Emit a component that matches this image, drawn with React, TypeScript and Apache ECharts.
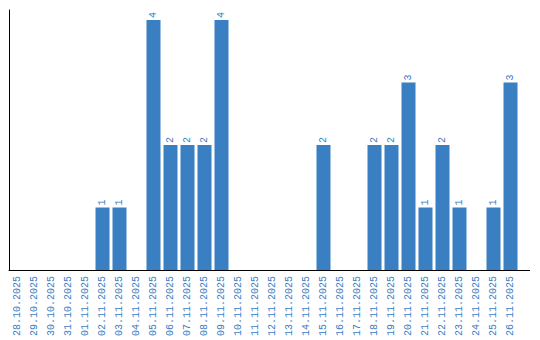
import React, { useEffect, useRef } from "react";
import * as echarts from "echarts";

const categories = [
  "28.10.2025", "29.10.2025", "30.10.2025", "31.10.2025", "01.11.2025",
  "02.11.2025", "03.11.2025", "04.11.2025", "05.11.2025", "06.11.2025",
  "07.11.2025", "08.11.2025", "09.11.2025", "10.11.2025", "11.11.2025",
  "12.11.2025", "13.11.2025", "14.11.2025", "15.11.2025", "16.11.2025",
  "17.11.2025", "18.11.2025", "19.11.2025", "20.11.2025", "21.11.2025",
  "22.11.2025", "23.11.2025", "24.11.2025", "25.11.2025", "26.11.2025",
];
const values = [
  0, 0, 0, 0, 0,
  1, 1, 0, 4, 2,
  2, 2, 4, 0, 0,
  0, 0, 0, 2, 0,
  0, 2, 2, 3, 1,
  2, 1, 0, 1, 3,
];

const BAR = "#3b7fc3";
const TEXT = "#3a7dc2";
const FONT = "'Liberation Mono', 'DejaVu Sans Mono', monospace";

export default function App() {
  const ref = useRef<HTMLDivElement>(null);
  useEffect(() => {
    if (!ref.current) return;
    const chart = echarts.init(ref.current, undefined, { renderer: "svg" });
    chart.setOption({
      animation: false,
      grid: { left: 9, top: 10, width: 510, bottom: 70, containLabel: false },
      xAxis: {
        type: "category",
        data: categories,
        axisLine: { show: true, lineStyle: { color: "#000", width: 1 } },
        axisTick: { show: false },
        axisLabel: {
          rotate: 90,
          interval: 0,
          margin: 6,
          color: TEXT,
          fontSize: 10,
          fontFamily: FONT,
        },
      },
      yAxis: {
        type: "value",
        min: 0,
        max: 4.16,
        axisLine: { show: true, lineStyle: { color: "#000", width: 1 } },
        axisTick: { show: false },
        axisLabel: { show: false },
        splitLine: { show: false },
      },
      graphic: [
        {
          type: "line",
          shape: { x1: 519, y1: 270.5, x2: 530, y2: 270.5 },
          style: { stroke: "#000", lineWidth: 1 },
        },
      ],
      series: [
        {
          type: "bar",
          data: values,
          barWidth: 14,
          itemStyle: { color: BAR },
          label: {
            show: true,
            position: "top",
            rotate: 90,
            align: "left",
            verticalAlign: "middle",
            distance: 2,
            color: TEXT,
            fontSize: 10,
            fontFamily: FONT,
            formatter: (p: any) => (p.value > 0 ? String(p.value) : ""),
          },
        },
      ],
    });
    return () => chart.dispose();
  }, []);
  return <div ref={ref} style={{ width: 540, height: 340, position: "absolute", left: 0, top: 0 }} />;
}
